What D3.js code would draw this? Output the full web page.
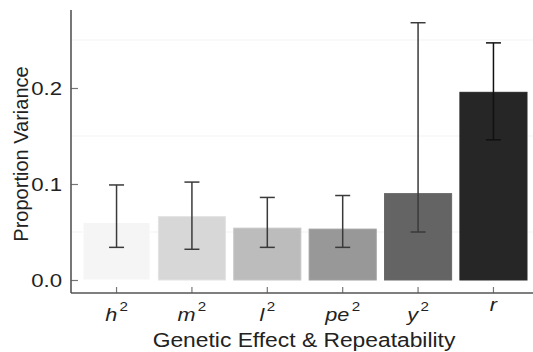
<!DOCTYPE html>
<html>
<head>
<meta charset="utf-8">
<script src="https://cdn.jsdelivr.net/npm/d3@7"></script>
<style>
  body { margin: 0; background: #fff; }
  text { font-family: "Liberation Sans", Arial, sans-serif; }
</style>
</head>
<body>
<div id="chart"></div>
<script>
(function() {

  var width = 533;
  var height = 352;

  // data
  var categories = ["h", "m", "l", "pe", "y", "r"];
  var superscripts = ["2", "2", "2", "2", "2", ""];
  var values = [0.060, 0.066, 0.054, 0.053, 0.090, 0.1955];
  var lower = [0.034, 0.032, 0.034, 0.034, 0.050, 0.146];
  var upper = [0.099, 0.102, 0.086, 0.088, 0.268, 0.247];
  var colors = ["#f5f5f5", "#d7d7d7", "#bcbcbc", "#989898", "#646464", "#262626"];
  var yTicks = [0, 0.1, 0.2];
  var yGrid = [0.05, 0.15, 0.25];

  var data = categories.map(function(c, i) {
    return { cat: c, sup: superscripts[i], value: values[i], lo: lower[i], hi: upper[i], color: colors[i] };
  });

  // the original figure looks a bit stretched sideways
  var sx = 1.17;

  var svg = d3.select("#chart")
    .append("svg")
    .attr("width", width)
    .attr("height", height);

  var axisX = 71, axisY = 293;

  var x = d3.scaleBand()
    .domain(categories)
    .range([83, 527])
    .paddingInner(0.11)
    .paddingOuter(0);

  var y = d3.scaleLinear()
    .domain([0, 0.1])
    .range([280, 184]);

  // faint gridlines
  svg.selectAll(".grid")
    .data(yGrid)
    .enter().append("line")
    .attr("class", "grid")
    .attr("x1", axisX)
    .attr("x2", width)
    .attr("y1", function(d) { return y(d); })
    .attr("y2", function(d) { return y(d); })
    .attr("stroke", "#f3f3f3")
    .attr("stroke-width", 1);

  // bars
  svg.selectAll(".bar")
    .data(data)
    .enter().append("rect")
    .attr("class", "bar")
    .attr("x", function(d) { return x(d.cat); })
    .attr("width", x.bandwidth())
    .attr("y", function(d) { return y(d.value); })
    .attr("height", function(d) { return y(0) - y(d.value); })
    .attr("fill", function(d) { return d.color; })
    .attr("stroke", function(d) { return d3.color(d.color).brighter(0.15); })
    .attr("stroke-width", 1);

  // error bars
  var capW = 15;
  var err = svg.selectAll(".err")
    .data(data)
    .enter().append("g")
    .attr("class", "err")
    .attr("stroke", function(d, i) { return i == 5 ? "#111" : "#3a3a3a"; })
    .attr("stroke-width", 1.5);

  err.append("line")
    .attr("x1", function(d) { return x(d.cat) + x.bandwidth() / 2; })
    .attr("x2", function(d) { return x(d.cat) + x.bandwidth() / 2; })
    .attr("y1", function(d) { return y(d.lo); })
    .attr("y2", function(d) { return y(d.hi); });

  err.selectAll(".cap")
    .data(function(d) { return [d.lo, d.hi].map(function(v) { return { cat: d.cat, v: v }; }); })
    .enter().append("line")
    .attr("x1", function(d) { return x(d.cat) + x.bandwidth() / 2 - capW / 2; })
    .attr("x2", function(d) { return x(d.cat) + x.bandwidth() / 2 + capW / 2; })
    .attr("y1", function(d) { return y(d.v); })
    .attr("y2", function(d) { return y(d.v); });

  // y axis
  var yAxis = d3.axisLeft(y)
    .tickValues(yTicks)
    .tickSize(-7)
    .tickPadding(9)
    .tickFormat(d3.format(".1f"));

  var gy = svg.append("g")
    .attr("transform", "translate(" + axisX + ",0)")
    .call(yAxis);
  gy.select(".domain").remove();
  gy.selectAll(".tick line").attr("stroke", "#777").attr("stroke-width", 1.2);
  gy.selectAll(".tick text")
    .attr("font-size", 19)
    .attr("fill", "#222")
    .attr("x", -9 / sx)
    .attr("transform", "scale(" + sx + ",1)")
    .style("font-family", "Liberation Sans, Arial, sans-serif");

  // x axis
  var xAxis = d3.axisBottom(x)
    .tickSize(-6)
    .tickFormat("");

  var gx = svg.append("g")
    .attr("transform", "translate(0," + axisY + ")")
    .call(xAxis);
  gx.select(".domain").remove();
  gx.selectAll(".tick line").attr("stroke", "#777").attr("stroke-width", 1.2);

  // axis frame lines
  svg.append("line")
    .attr("x1", axisX).attr("x2", axisX)
    .attr("y1", 10).attr("y2", axisY)
    .attr("stroke", "#555").attr("stroke-width", 1.6);
  svg.append("line")
    .attr("x1", axisX).attr("x2", width)
    .attr("y1", axisY).attr("y2", axisY)
    .attr("stroke", "#555").attr("stroke-width", 1.6);

  // category labels (italic with superscript)
  var labels = svg.selectAll(".xlab")
    .data(data)
    .enter().append("text")
    .attr("class", "xlab")
    .attr("transform", function(d) {
      return "translate(" + (x(d.cat) + x.bandwidth() / 2) + "," + (d.sup ? 321 : 311) + ") scale(" + sx + ",1)";
    })
    .attr("text-anchor", "middle")
    .attr("font-size", 18.5)
    .attr("fill", "#222");

  labels.append("tspan")
    .attr("font-style", "italic")
    .text(function(d) { return d.cat; });
  labels.append("tspan")
    .attr("font-size", 13)
    .attr("dx", 2)
    .attr("dy", -10)
    .text(function(d) { return d.sup; });

  // axis titles
  svg.append("text")
    .attr("transform", "translate(304,347) scale(" + sx + ",1)")
    .attr("text-anchor", "middle")
    .attr("font-size", 19.5)
    .attr("fill", "#222")
    .text("Genetic Effect & Repeatability");

  svg.append("text")
    .attr("transform", "translate(28,154) rotate(-90)")
    .attr("text-anchor", "middle")
    .attr("font-size", 20)
    .attr("fill", "#222")
    .text("Proportion Variance");

})();
</script>
</body>
</html>
